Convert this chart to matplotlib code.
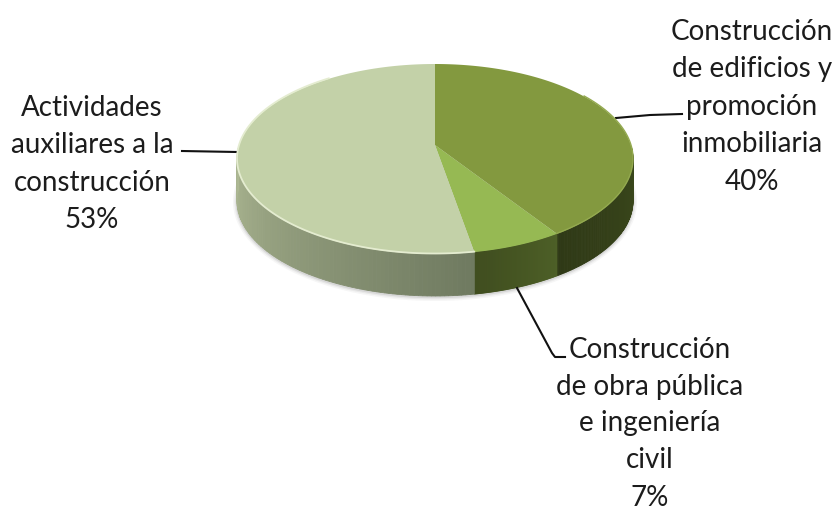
import numpy as np
import matplotlib
matplotlib.use("Agg")
import matplotlib.pyplot as plt
from matplotlib.colors import to_rgb

categories = ["Construcción\nde edificios y\npromoción\ninmobiliaria",
              "Construcción\nde obra pública\ne ingeniería\ncivil",
              "Actividades\nauxiliares a la\nconstrucción"]
values = [40, 7, 53]
top_colors = ["#83993f", "#96b953", "#c3d1a8"]
side_from = ["#3c4a1c", "#4d5f27", "#6f7a60"]
side_to = ["#2f3916", "#3f4d1e", "#adb893"]

CX, CY, RX, RY = 435, 159, 198, 95
APEX_Y = 145
DEPTH = 42
PERSPECTIVE = 0.06

fig = plt.figure(figsize=(8.38, 5.12), dpi=100)
ax = fig.add_axes([0, 0, 1, 1])
ax.set_xlim(0, 838)
ax.set_ylim(512, 0)
ax.axis("off")


def rim(theta, dy=0.0):
    t = theta - PERSPECTIVE * np.sin(theta)
    return CX + RX * np.sin(t), CY - RY * np.cos(t) + dy


edges = np.deg2rad(np.cumsum([0] + values) * 3.6)

# soft shadow under the disc
t = np.linspace(0, 2 * np.pi, 300)
for grow, alpha in ((4, 0.05), (2.5, 0.08), (1.2, 0.12)):
    ax.fill(CX + (RX + grow) * np.sin(t), CY + DEPTH + 1 - (RY + grow) * np.cos(t),
            color="#555555", alpha=alpha, lw=0, zorder=1)

# side wall, drawn as thin shaded strips for each slice
for a, b, c0, c1 in zip(edges[:-1], edges[1:], side_from, side_to):
    lo, hi = max(a, 1.5), min(b, 2 * np.pi - 1.5)
    ts = np.linspace(lo, hi, 90)
    c0, c1 = np.array(to_rgb(c0)), np.array(to_rgb(c1))
    for i in range(len(ts) - 1):
        col = c0 + (c1 - c0) * i / (len(ts) - 2)
        x0, y0 = rim(ts[i])
        x1, y1 = rim(ts[i + 1])
        ax.fill([x0, x1, x1, x0], [y0, y1, y1 + DEPTH, y0 + DEPTH],
                facecolor=col, edgecolor=col, lw=0.6, zorder=2)

# top surface
for a, b, col in zip(edges[:-1], edges[1:], top_colors):
    ts = np.linspace(a, b, 160)
    x, y = rim(ts)
    ax.fill(np.r_[CX, x], np.r_[APEX_Y, y], color=col, lw=0, zorder=3)

# bevel highlight along the front of the rim
ts = np.linspace(edges[2], 2 * np.pi - 0.6, 120)
x, y = rim(ts, -0.5)
ax.plot(x, y, color="#e4ecd0", lw=1.3, zorder=4)
ts = np.linspace(0.9, edges[1], 60)
x, y = rim(ts, -0.5)
ax.plot(x, y, color="#93a94f", lw=1.0, zorder=4)

# leader lines
leaders = [([616, 650, 682], [118, 115, 114]),
           ([517, 552, 555, 565], [288, 353, 357, 357]),
           ([182, 237], [151, 152])]
for lx, ly in leaders:
    ax.plot(lx, ly, color="#111111", lw=1.5, zorder=2, solid_joinstyle="round")

# labels
label_pos = [(752, 29, 37.6), (650, 347, 37.0), (92, 105, 37.6)]
for name, val, (tx, ty, step) in zip(categories, values, label_pos):
    for i, line in enumerate(name.split("\n") + [f"{val}%"]):
        ax.text(tx, ty + i * step, line, ha="center", va="center_baseline",
                fontsize=20, family="Lato", color="#1c1c1c", zorder=6)

fig.savefig("out.png", dpi=100)
